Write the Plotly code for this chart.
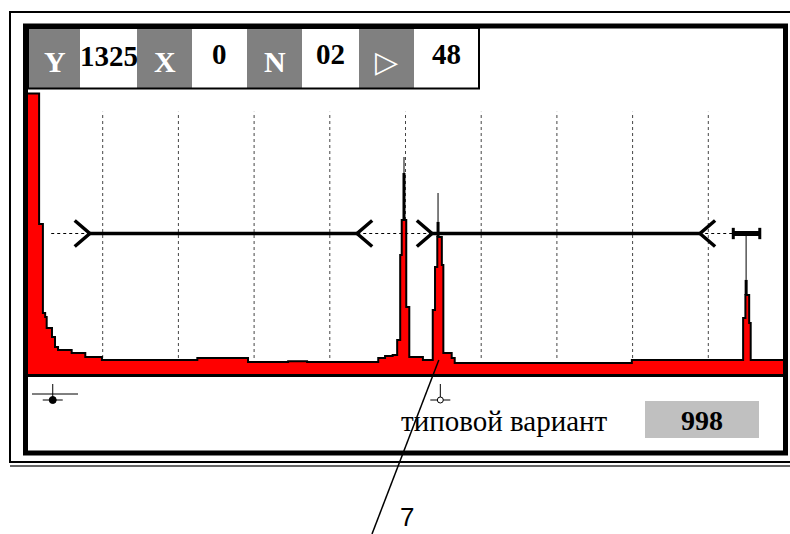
import plotly.graph_objects as go

# A-scan on the flaw detector screen: x in screen divisions, y in % of screen height
wave_x = [0, 0.16, 0.21, 0.24, 0.26, 0.33, 0.37, 0.41, 0.59, 0.77, 0.99, 2.25, 2.92, 3.45,
          3.70, 4.64, 4.73, 4.83, 4.89, 4.93, 4.95, 5.01, 5.05, 5.23, 5.36, 5.39, 5.42,
          5.48, 5.50, 5.61, 5.65, 7.99, 9.46, 9.49, 9.54, 9.56, 10]
wave_y = [99.5, 53.4, 21.9, 20.5, 16.6, 13.4, 9.9, 8.8, 7.8, 6.4, 5.3, 6.0, 4.6, 4.9,
          4.6, 6.0, 6.7, 7.1, 12.4, 42.4, 54.8, 24.0, 6.4, 5.3, 23.0, 38.2, 48.8,
          38.9, 7.8, 6.0, 4.2, 5.3, 20.1, 28.3, 18.4, 5.3, 5.3]

# echo peaks: filled top, outline top, thin spike top
peak_x = [4.98, 5.43, 9.50]
peak_top = [54.8, 48.8, 28.3]
peak_env = [71.4, 54.1, 33.6]
peak_max = [77.0, 64.3, 50.0]

grid_x = [1, 2, 3, 4, 5, 6, 7, 8, 9]
grid_y = [6, 93]

gate_level = 50
gate_start = [0.83, 5.35]
gate_end = [4.36, 8.89]
gate_dotted = [0.32, 9.33]
mark_gate = [9.33, 9.68]

cursor_x = [0.34, 5.46]

header_labels = ["Y", "X", "N", "▷"]
header_values = ["1325", "0", "02", "48"]
mode_text = "типовой вариант"
mode_value = "998"
callout = "7"

# pixel helpers for the screen decoration around the plot area
L, R, T, B = 27, 784, 92, 375


def fx(p):
    return (p - L) / (R - L)


def fy(p):
    return (B - p) / (B - T)


fig = go.Figure()

# signal
fig.add_trace(go.Scatter(
    x=wave_x, y=wave_y, mode="lines", line_shape="hv",
    fill="tozeroy", fillcolor="#ff0000",
    line=dict(color="black", width=2),
))

# peak outlines and spikes
for px_, top, env, mx in zip(peak_x, peak_top, peak_env, peak_max):
    fig.add_trace(go.Scatter(x=[px_, px_], y=[top, env], mode="lines",
                             line=dict(color="black", width=3)))
    fig.add_trace(go.Scatter(x=[px_, px_], y=[env, mx], mode="lines",
                             line=dict(color="#555555", width=1.5)))

# gates
fig.add_trace(go.Scatter(x=gate_dotted, y=[gate_level] * 2, mode="lines",
                         line=dict(color="black", width=1, dash="dot")))
gx, gy = [], []
for s, e in zip(gate_start, gate_end):
    gx += [s, e, None]
    gy += [gate_level, gate_level, None]
    gx += [s - 0.2, s, s - 0.2, None]
    gy += [gate_level + 4.6, gate_level, gate_level - 4.6, None]
    gx += [e + 0.2, e, e + 0.2, None]
    gy += [gate_level + 4.6, gate_level, gate_level - 4.6, None]
fig.add_trace(go.Scatter(x=gx, y=gy, mode="lines",
                         line=dict(color="black", width=3.5)))
fig.add_trace(go.Scatter(x=mark_gate, y=[gate_level] * 2, mode="lines",
                         line=dict(color="black", width=5)))
hx, hy = [], []
for m in mark_gate:
    hx += [m, m, None]
    hy += [gate_level - 2, gate_level + 2, None]
fig.add_trace(go.Scatter(x=hx, y=hy, mode="lines",
                         line=dict(color="black", width=3)))

shapes = []
for g in grid_x:
    shapes.append(dict(type="line", xref="x", yref="y", x0=g, x1=g,
                       y0=grid_y[0], y1=grid_y[1], layer="below",
                       line=dict(color="#444444", width=1, dash="dot")))

# outer and inner frames
shapes.append(dict(type="rect", xref="paper", yref="paper",
                   x0=fx(10), x1=fx(805), y0=fy(12), y1=fy(462),
                   line=dict(color="black", width=2)))
shapes.append(dict(type="line", xref="paper", yref="paper",
                   x0=fx(10), x1=fx(805), y0=fy(466), y1=fy(466),
                   line=dict(color="#333333", width=1.5)))
shapes.append(dict(type="rect", xref="paper", yref="paper",
                   x0=fx(25.5), x1=fx(785.5), y0=fy(26), y1=fy(453),
                   line=dict(color="black", width=5)))
shapes.append(dict(type="line", xref="paper", yref="paper",
                   x0=fx(27), x1=fx(784), y0=fy(375.5), y1=fy(375.5),
                   line=dict(color="black", width=3)))

# header cells
edges = [29, 80, 137, 192, 247, 302, 359, 414, 479]
for i in range(8):
    shapes.append(dict(type="rect", xref="paper", yref="paper",
                       x0=fx(edges[i]), x1=fx(edges[i + 1]), y0=fy(29), y1=fy(88),
                       fillcolor="#808080" if i % 2 == 0 else "white",
                       line=dict(width=0), layer="above"))
shapes.append(dict(type="rect", xref="paper", yref="paper",
                   x0=fx(28), x1=fx(479), y0=fy(28), y1=fy(88.5),
                   line=dict(color="black", width=2), layer="above"))

# cursor marks under the screen
cx0, cx1 = cursor_x[0] / 10, cursor_x[1] / 10
shapes.append(dict(type="line", xref="paper", yref="paper",
                   x0=fx(32), x1=fx(78), y0=fy(394), y1=fy(394),
                   line=dict(color="black", width=1)))
for c in (cx0, cx1):
    shapes.append(dict(type="line", xref="paper", yref="paper",
                       x0=c, x1=c, y0=fy(384), y1=fy(403),
                       line=dict(color="black", width=1)))
    shapes.append(dict(type="line", xref="paper", yref="paper",
                       x0=c - 10 / (R - L), x1=c + 10 / (R - L), y0=fy(400), y1=fy(400),
                       line=dict(color="black", width=1)))
shapes.append(dict(type="circle", xref="paper", yref="paper",
                   x0=cx0 - 3.5 / (R - L), x1=cx0 + 3.5 / (R - L),
                   y0=fy(403.5), y1=fy(396.5),
                   fillcolor="black", line=dict(color="black", width=1)))
shapes.append(dict(type="circle", xref="paper", yref="paper",
                   x0=cx1 - 3 / (R - L), x1=cx1 + 3 / (R - L),
                   y0=fy(403), y1=fy(397),
                   fillcolor="white", line=dict(color="black", width=1)))

# mode value box
shapes.append(dict(type="rect", xref="paper", yref="paper",
                   x0=fx(645), x1=fx(759), y0=fy(401), y1=fy(438),
                   fillcolor="#c0c0c0", line=dict(width=0)))

# callout leader to the second echo
shapes.append(dict(type="line", xref="paper", yref="paper",
                   x0=peak_x[1] / 10 + 0.001, y0=fy(360), x1=fx(372), y1=fy(534),
                   line=dict(color="black", width=1.5)))

annotations = []
label_cx = [(edges[i] + edges[i + 1]) / 2 for i in range(0, 8, 2)]
value_cx = [(edges[i] + edges[i + 1]) / 2 for i in range(1, 8, 2)]
for i, t in enumerate(header_labels):
    annotations.append(dict(
        xref="paper", yref="paper", x=fx(label_cx[i]), y=fy(62), text="<b>%s</b>" % t,
        showarrow=False, xanchor="center", yanchor="middle",
        font=dict(family="Liberation Serif, DejaVu Serif", size=30, color="white")))
for i, t in enumerate(header_values):
    annotations.append(dict(
        xref="paper", yref="paper", x=fx(value_cx[i]), y=fy(56 if i == 0 else 54),
        text="<b>%s</b>" % t, showarrow=False, xanchor="center", yanchor="middle",
        font=dict(family="Liberation Serif", size=29, color="black")))
annotations.append(dict(
    xref="paper", yref="paper", x=fx(504), y=fy(421), text=mode_text,
    showarrow=False, xanchor="center", yanchor="middle",
    font=dict(family="Liberation Serif", size=29, color="black")))
annotations.append(dict(
    xref="paper", yref="paper", x=fx(702), y=fy(420), text="<b>%s</b>" % mode_value,
    showarrow=False, xanchor="center", yanchor="middle",
    font=dict(family="Liberation Serif", size=28, color="black")))
annotations.append(dict(
    xref="paper", yref="paper", x=fx(407), y=fy(517), text=callout,
    showarrow=False, xanchor="center", yanchor="middle",
    font=dict(family="Liberation Sans", size=26, color="black")))

fig.update_layout(
    width=790, height=534,
    margin=dict(l=L, r=790 - R, t=T, b=534 - B, pad=0),
    paper_bgcolor="white", plot_bgcolor="white",
    showlegend=False,
    xaxis=dict(range=[0, 10], visible=False, fixedrange=True),
    yaxis=dict(range=[0, 100], visible=False, fixedrange=True),
    shapes=shapes, annotations=annotations,
)

# drop the default page margin so the figure sits at the window's corner
fig.write_html("out.html", config={"displayModeBar": False},
               post_script="document.body.style.margin='0';"
               "document.body.style.overflow='hidden';")
